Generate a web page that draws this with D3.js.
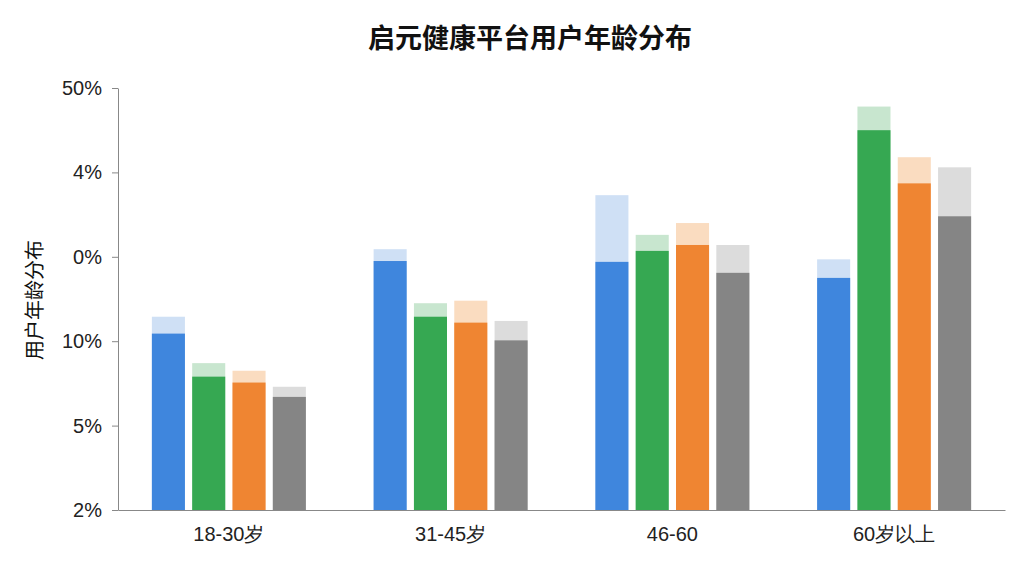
<!DOCTYPE html>
<html><head><meta charset="utf-8">
<script src="https://cdn.jsdelivr.net/npm/d3@7"></script>
<style>body{margin:0;background:#fff;font-family:"Noto Sans CJK SC","Noto Sans",sans-serif;}</style>
</head><body><svg id="c" width="1024" height="576"></svg>
<script>
// 数据（以刻度序号为单位读取）
const groups = ['18-30岁', '31-45岁', '46-60', '60岁以上'];
const series = ['s1', 's2', 's3', 's4'];
const solidVals = [
  [2.09, 1.58, 1.51, 1.34],
  [2.95, 2.29, 2.22, 2.01],
  [2.94, 3.07, 3.14, 2.81],
  [2.75, 4.50, 3.87, 3.48]
];
const capVals = [
  [2.29, 1.74, 1.65, 1.46],
  [3.09, 2.45, 2.48, 2.24],
  [3.73, 3.26, 3.40, 3.14],
  [2.97, 4.78, 4.18, 4.06]
];
const tickLabels = ['2%', '5%', '10%', '0%', '4%', '50%'];

const solidColors = ['#3f86dd', '#36a852', '#ef8532', '#858585'];
const capColors = ['#cfe0f5', '#c8e6cf', '#fadcc0', '#dcdcdc'];

const svg = d3.select('#c');
const mLeft = 118, mRight = 1005, mTop = 88, mBottom = 510;

const y = d3.scaleLinear().domain([0, 5]).range([mBottom, mTop]);
const x0 = d3.scaleBand().domain(groups).range([mLeft, mRight]);
const bw = x0.bandwidth();
const x1 = d3.scaleBand().domain(series).range([bw / 2 - 77, bw / 2 + 77]).paddingInner(0.18);

const g = svg.append('g');
groups.forEach((grp, i) => {
  const gg = g.append('g').attr('transform', `translate(${x0(grp)},0)`);
  series.forEach((s, j) => {
    gg.append('rect').attr('x', x1(s)).attr('width', x1.bandwidth())
      .attr('y', y(capVals[i][j])).attr('height', y(0) - y(capVals[i][j]))
      .attr('fill', capColors[j]);
    gg.append('rect').attr('x', x1(s)).attr('width', x1.bandwidth())
      .attr('y', y(solidVals[i][j])).attr('height', y(0) - y(solidVals[i][j]))
      .attr('fill', solidColors[j]);
  });
});

// 坐标轴
const yAxis = d3.axisLeft(y).tickValues([0, 1, 2, 3, 4, 5]).tickFormat(d => tickLabels[d]).tickSize(6).tickSizeOuter(0);
const ya = svg.append('g').attr('transform', `translate(${mLeft},0)`).call(yAxis);
ya.select('.domain').attr('stroke', '#888');
ya.selectAll('line').attr('stroke', '#888');
ya.selectAll('text').attr('font-size', 20).attr('fill', '#222').attr('x', -16)
  .attr('font-family', '"Liberation Sans","Noto Sans",sans-serif');

const xAxis = d3.axisBottom(x0).tickSize(0).tickSizeOuter(0);
const xa = svg.append('g').attr('transform', `translate(0,${mBottom})`).call(xAxis);
xa.select('.domain').attr('stroke', '#888');
xa.selectAll('text').attr('font-size', 20).attr('fill', '#222').attr('dy', '1.4em');

svg.append('text').attr('x', 530).attr('y', 48).attr('text-anchor', 'middle')
  .attr('font-size', 27).attr('font-weight', 'bold').attr('fill', '#111').text('启元健康平台用户年龄分布');

svg.append('text').attr('transform', 'translate(42,300) rotate(-90)').attr('text-anchor', 'middle')
  .attr('font-size', 20).attr('fill', '#111').text('用户年龄分布');
</script></body></html>
